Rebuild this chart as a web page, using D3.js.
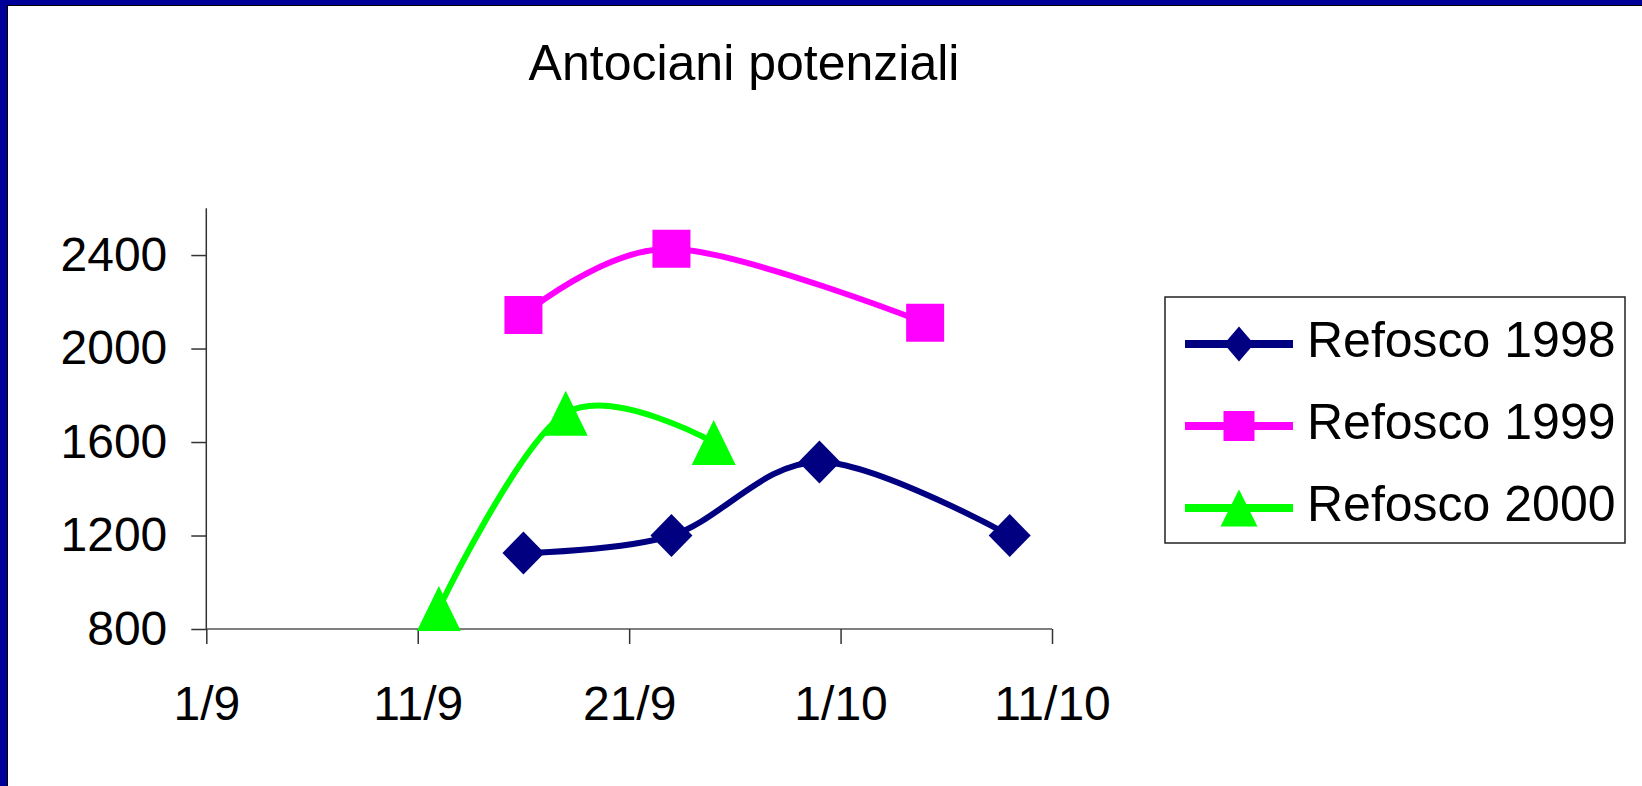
<!DOCTYPE html>
<html>
<head>
<meta charset="utf-8">
<script src="https://cdn.jsdelivr.net/npm/d3@7"></script>
<style>
  html, body { margin: 0; padding: 0; background: #fff; }
  svg { display: block; }
  text { font-family: "Liberation Sans", Arial, sans-serif; fill: #000; }
</style>
</head>
<body>
<svg id="chart" width="1642" height="786"></svg>
<script>
// Potential anthocyanins of Refosco across three vintages (day/month of sampling)
const chartTitle = "Antociani potenziali";

const seriesNames = ["Refosco 1998", "Refosco 1999", "Refosco 2000"];

const dates1998 = ["16/9", "23/9", "30/9", "9/10"];
const values1998 = [1125, 1200, 1515, 1200];

const dates1999 = ["16/9", "23/9", "5/10"];
const values1999 = [2143, 2427, 2110];

const dates2000 = ["12/9", "18/9", "25/9"];
const values2000 = [888, 1723, 1598];

const xTickLabels = ["1/9", "11/9", "21/9", "1/10", "11/10"];
const yTickValues = [800, 1200, 1600, 2000, 2400];

// Dates are placed on a shared calendar so the vintages overlay by day/month
const parseDM = s => {
  const [d, m] = s.split("/").map(Number);
  return new Date(2000, m - 1, d);
};
const fmtDM = d => `${d.getDate()}/${d.getMonth() + 1}`;

const series = [
  { name: seriesNames[0], dates: dates1998, values: values1998, color: "#000080", shape: "diamond" },
  { name: seriesNames[1], dates: dates1999, values: values1999, color: "#FF00FF", shape: "square" },
  { name: seriesNames[2], dates: dates2000, values: values2000, color: "#00FF00", shape: "triangle" }
];

const svg = d3.select("#chart");

// Slide frame: blue band on top and left edges with a thin dark rule
svg.append("rect").attr("x", 0).attr("y", 0).attr("width", 1642).attr("height", 5).attr("fill", "#000099");
svg.append("rect").attr("x", 0).attr("y", 0).attr("width", 7).attr("height", 786).attr("fill", "#000099");
svg.append("line").attr("x1", 7).attr("y1", 5.5).attr("x2", 1642).attr("y2", 5.5).attr("stroke", "#000").attr("stroke-width", 1);
svg.append("line").attr("x1", 7.5).attr("y1", 5).attr("x2", 7.5).attr("y2", 786).attr("stroke", "#000").attr("stroke-width", 1);

const plot = { left: 206.3, right: 1052, top: 208.3, bottom: 629 };

const x = d3.scaleTime()
  .domain([parseDM(xTickLabels[0]), parseDM(xTickLabels[xTickLabels.length - 1])])
  .range([plot.left, plot.right]);

const y = d3.scaleLinear()
  .domain([800, 2600])
  .range([plot.bottom, plot.top]);

// Title
svg.append("text")
  .attr("x", 744).attr("y", 80)
  .attr("text-anchor", "middle")
  .style("font-size", "50px")
  .text(chartTitle);

// Y axis
const yAxis = d3.axisLeft(y)
  .tickValues(yTickValues)
  .tickSize(15)
  .tickPadding(24)
  .tickFormat(d3.format("d"));

const gy = svg.append("g")
  .attr("transform", `translate(${plot.left},0)`)
  .call(yAxis);
gy.select(".domain").attr("stroke", "#333").attr("stroke-width", 1.5)
  .attr("d", `M0,${plot.top}V${plot.bottom}`);
gy.selectAll(".tick line").attr("stroke", "#333").attr("stroke-width", 1.5);
gy.selectAll(".tick text")
  .style("font-size", "48px")
  .style("font-family", "'Liberation Sans', Arial, sans-serif")
  .attr("fill", "#000");

// X axis
const xAxis = d3.axisBottom(x)
  .tickValues(xTickLabels.map(parseDM))
  .tickSize(15)
  .tickPadding(42)
  .tickFormat(fmtDM);

const gx = svg.append("g")
  .attr("transform", `translate(0,${plot.bottom})`)
  .call(xAxis);
gx.select(".domain").attr("stroke", "#555").attr("stroke-width", 1.5)
  .attr("d", `M${plot.left},0H${plot.right}`);
gx.selectAll(".tick line").attr("stroke", "#333").attr("stroke-width", 1.5);
gx.selectAll(".tick text")
  .style("font-size", "48px")
  .style("font-family", "'Liberation Sans', Arial, sans-serif")
  .attr("fill", "#000");

// Marker shapes
function markerPath(shape, w, h) {
  const hw = w / 2, hh = h / 2;
  if (shape === "diamond") return `M0,${-hh}L${hw},0L0,${hh}L${-hw},0Z`;
  if (shape === "square") return `M${-hw},${-hh}H${hw}V${hh}H${-hw}Z`;
  return `M0,${-hh}L${hw},${hh}L${-hw},${hh}Z`;
}
const markerSize = { diamond: [42, 43], square: [38, 38], triangle: [44, 45] };
const legendMarkerSize = { diamond: [30, 35], square: [31, 30], triangle: [37, 37] };

const line = d3.line()
  .x(d => x(d.date))
  .y(d => y(d.value))
  .curve(d3.curveCardinal.tension(0));

series.forEach(s => {
  const pts = s.dates.map((d, i) => ({ date: parseDM(d), value: s.values[i] }));
  const g = svg.append("g");
  g.append("path")
    .datum(pts)
    .attr("d", line)
    .attr("fill", "none")
    .attr("stroke", s.color)
    .attr("stroke-width", 6)
    .attr("stroke-linejoin", "round");
  const [mw, mh] = markerSize[s.shape];
  g.selectAll("path.mk")
    .data(pts)
    .join("path")
    .attr("class", "mk")
    .attr("transform", d => `translate(${x(d.date)},${y(d.value)})`)
    .attr("d", markerPath(s.shape, mw, mh))
    .attr("fill", s.color);
});

// Legend
const legend = svg.append("g");
legend.append("rect")
  .attr("x", 1165).attr("y", 297)
  .attr("width", 460).attr("height", 246)
  .attr("fill", "#fff")
  .attr("stroke", "#222")
  .attr("stroke-width", 1.5);

const legendRow = d3.scalePoint().domain(seriesNames).range([344, 508]);

series.forEach(s => {
  const cy = legendRow(s.name);
  legend.append("line")
    .attr("x1", 1185).attr("x2", 1293)
    .attr("y1", cy).attr("y2", cy)
    .attr("stroke", s.color)
    .attr("stroke-width", 8);
  const [mw, mh] = legendMarkerSize[s.shape];
  legend.append("path")
    .attr("transform", `translate(1239,${cy})`)
    .attr("d", markerPath(s.shape, mw, mh))
    .attr("fill", s.color);
  legend.append("text")
    .attr("x", 1307).attr("y", cy + 13)
    .style("font-size", "50px")
    .text(s.name);
});
</script>
</body>
</html>
